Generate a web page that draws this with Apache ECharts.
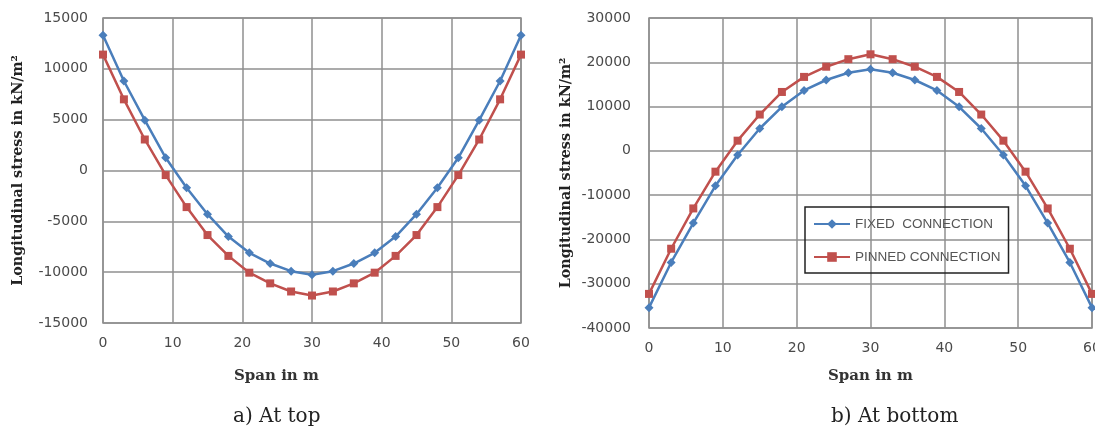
<!DOCTYPE html>
<html>
<head>
<meta charset="utf-8">
<script src="https://cdn.jsdelivr.net/npm/echarts@6/dist/echarts.min.js"></script>
<style>
html,body{margin:0;padding:0;background:#fff;}
#c{width:1095px;height:428px;}
</style>
</head>
<body>
<div id="c"></div>
<script>
const spanM = [0,3,6,9,12,15,18,21,24,27,30,33,36,39,42,45,48,51,54,57,60];
const topFixed = [13300,8800,4950,1250,-1700,-4300,-6500,-8100,-9150,-9900,-10250,-9900,-9150,-8100,-6500,-4300,-1700,1250,4950,8800,13300];
const topPinned = [11400,7000,3050,-450,-3600,-6350,-8400,-10050,-11100,-11900,-12300,-11900,-11100,-10050,-8400,-6350,-3600,-450,3050,7000,11400];
const bottomFixed = [-35400,-25200,-16300,-7900,-950,5050,9950,13650,16000,17650,18450,17650,16000,13650,9950,5050,-950,-7900,-16300,-25200,-35400];
const bottomPinned = [-32300,-22100,-13000,-4700,2300,8200,13300,16700,19000,20700,21800,20700,19000,16700,13300,8200,2300,-4700,-13000,-22100,-32300];
const seriesNames = ['FIXED  CONNECTION','PINNED CONNECTION'];
const yAxisTitle = 'Longitudinal stress in kN/m²';
const xAxisTitle = 'Span in m';
const captions = ['a) At top','b) At bottom'];

const BLUE = '#4a7ebb', RED = '#c0504d', GRID = '#8f8f8f';
const tickFont = {fontFamily:'DejaVu Sans', fontSize:14, color:'#4a4a4a'};

function pairs(xs, ys){ return xs.map((x,i)=>[x, ys[i]]); }
function plain(v){ return String(v); }
function xAx(idx){
  return {type:'value', gridIndex:idx, min:0, max:60, interval:10,
    axisLine:{show:false, onZero:false}, axisTick:{show:false},
    splitLine:{show:true, lineStyle:{color:GRID, width:1.5}},
    axisLabel:Object.assign({margin:13, formatter:plain}, tickFont)};
}
function yAx(idx, min, max, interval, margin){
  return {type:'value', gridIndex:idx, min:min, max:max, interval:interval,
    axisLine:{show:false}, axisTick:{show:false},
    splitLine:{show:true, lineStyle:{color:GRID, width:1.5}},
    axisLabel:Object.assign({margin:margin, formatter:plain}, tickFont),
    name:yAxisTitle, nameLocation:'middle', nameRotate:90,
    nameGap: idx===0 ? 78 : 76,
    nameTextStyle:{fontFamily:'DejaVu Serif', fontWeight:'bold', fontSize:14.3, color:'#222'}};
}
function ser(name, xi, data, color, symbol, size){
  return {name:name, type:'line', xAxisIndex:xi, yAxisIndex:xi, data:data,
    symbol:symbol, symbolSize:size, showAllSymbol:true,
    lineStyle:{color:color, width:2.5}, itemStyle:{color:color},
    animation:false};
}

const chart = echarts.init(document.getElementById('c'));
chart.setOption({
  animation:false,
  backgroundColor:'#fff',
  grid:[
    {left:103, right:574, top:18, bottom:105, show:true, borderColor:GRID, borderWidth:1.5, outerBoundsMode:'none', containLabel:false},
    {left:649, right:3, top:18, bottom:100, show:true, borderColor:GRID, borderWidth:1.5, outerBoundsMode:'none', containLabel:false}
  ],
  xAxis:[xAx(0), xAx(1)],
  yAxis:[yAx(0,-15000,15000,5000,15), yAx(1,-40000,30000,10000,18)],
  legend:{
    data:seriesNames, orient:'vertical', left:805, top:207,
    padding:[10,8,9,8], itemGap:19, itemWidth:36, itemHeight:12,
    borderColor:'#222', borderWidth:1.5, backgroundColor:'transparent',
    textStyle:{fontFamily:'Liberation Sans', fontSize:13.5, color:'#555'}
  },
  series:[
    ser(seriesNames[0],0,pairs(spanM,topFixed),BLUE,'diamond',9),
    ser(seriesNames[1],0,pairs(spanM,topPinned),RED,'rect',8),
    ser(seriesNames[0],1,pairs(spanM,bottomFixed),BLUE,'diamond',9),
    ser(seriesNames[1],1,pairs(spanM,bottomPinned),RED,'rect',8)
  ],
  graphic:[
    {type:'text', left:234, top:369, silent:true, style:{text:xAxisTitle, font:'bold 15px "DejaVu Serif"', fill:'#333'}},
    {type:'text', left:828, top:369, silent:true, style:{text:xAxisTitle, font:'bold 15px "DejaVu Serif"', fill:'#333'}},
    {type:'text', left:233, top:407, silent:true, style:{text:captions[0], font:'20px "DejaVu Serif"', fill:'#222'}},
    {type:'text', left:831, top:407, silent:true, style:{text:captions[1], font:'20px "DejaVu Serif"', fill:'#222'}}
  ]
});
</script>
</body>
</html>
